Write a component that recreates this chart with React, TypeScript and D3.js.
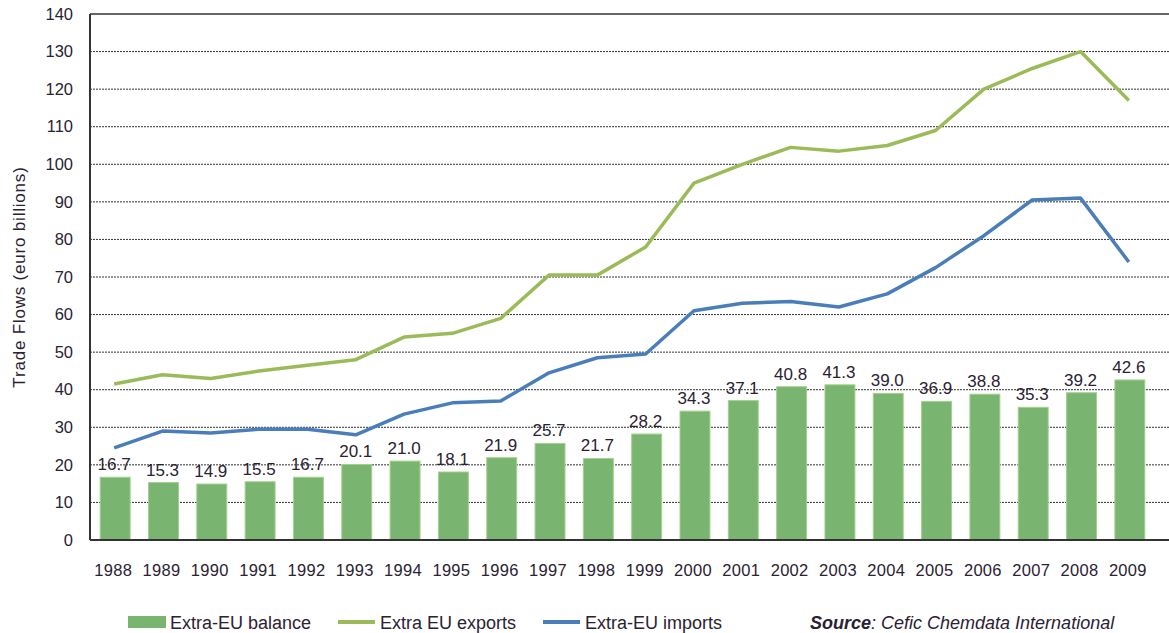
import * as d3 from "d3";
import React from "react";

const width = 1169;
const height = 633;
const margin = { top: 14, left: 90, bottom: 93 };
const plotRight = 1153;

const years = [
  "1988", "1989", "1990", "1991", "1992", "1993", "1994", "1995", "1996", "1997", "1998",
  "1999", "2000", "2001", "2002", "2003", "2004", "2005", "2006", "2007", "2008", "2009",
];
const balance = [
  16.7, 15.3, 14.9, 15.5, 16.7, 20.1, 21.0, 18.1, 21.9, 25.7, 21.7,
  28.2, 34.3, 37.1, 40.8, 41.3, 39.0, 36.9, 38.8, 35.3, 39.2, 42.6,
];
const exportsEU = [
  41.5, 44, 43, 45, 46.5, 48, 54, 55, 59, 70.5, 70.5,
  78, 95, 100, 104.5, 103.5, 105, 109, 120, 125.5, 130, 117,
];
const importsEU = [
  24.5, 29, 28.5, 29.5, 29.5, 28, 33.5, 36.5, 37, 44.5, 48.5,
  49.5, 61, 63, 63.5, 62, 65.5, 72.5, 81, 90.5, 91, 74,
];
const yTicks = [0, 10, 20, 30, 40, 50, 60, 70, 80, 90, 100, 110, 120, 130, 140];

const font = "'Liberation Sans', Arial, sans-serif";
const textColor = "#2a2233";

const App = () => {
  const x = d3
    .scaleBand()
    .domain(years)
    .range([margin.left, plotRight])
    .paddingInner(0.38)
    .paddingOuter(0.19);
  const y = d3
    .scaleLinear()
    .domain([0, 140])
    .range([height - margin.bottom, margin.top]);

  const cx = (yr) => x(yr) + x.bandwidth() / 2;
  const line = d3
    .line()
    .x((d) => cx(d[0]))
    .y((d) => y(d[1]));

  const y0 = y(0);

  return (
    <svg width={width} height={height} style={{ position: "absolute", left: 0, top: 0 }}>
      <rect width={width} height={height} fill="#fff" />
      {/* grid */}
      {yTicks.slice(1, -1).map((t) => (
        <line
          key={t}
          x1={margin.left}
          x2={width}
          y1={y(t)}
          y2={y(t)}
          stroke="#333"
          strokeWidth={1}
          strokeDasharray="2,1"
        />
      ))}
      <line x1={margin.left} x2={width} y1={y(140)} y2={y(140)} stroke="#333" strokeWidth={1.5} />
      {/* bars */}
      {balance.map((v, i) => (
        <rect
          key={years[i]}
          x={x(years[i]) + 1}
          y={y(v)}
          width={x.bandwidth()}
          height={y0 - y(v)}
          fill="#79b571"
          stroke="#a3d28a"
          strokeWidth={1}
        />
      ))}
      {balance.map((v, i) => (
        <text
          key={"l" + years[i]}
          x={cx(years[i])}
          y={y(v) - 7}
          textAnchor="middle"
          fontFamily={font}
          fontSize={17}
          fill={textColor}
        >
          {v.toFixed(1)}
        </text>
      ))}
      {/* lines */}
      <path
        d={line(years.map((yr, i) => [yr, exportsEU[i]]))}
        fill="none"
        stroke="#9bbb59"
        strokeWidth={3.5}
        strokeLinejoin="round"
      />
      <path
        d={line(years.map((yr, i) => [yr, importsEU[i]]))}
        fill="none"
        stroke="#4a7ebb"
        strokeWidth={3.5}
        strokeLinejoin="round"
      />
      {/* axes */}
      <line x1={margin.left} x2={margin.left} y1={y(140)} y2={y0} stroke="#333" strokeWidth={2} />
      <line x1={margin.left} x2={width} y1={y0} y2={y0} stroke="#333" strokeWidth={2} />
      {yTicks.map((t) => (
        <text
          key={"y" + t}
          x={73}
          y={y(t)}
          dy="0.35em"
          textAnchor="end"
          fontFamily={font}
          fontSize={16.5}
          fill={textColor}
        >
          {t}
        </text>
      ))}
      {years.map((yr) => (
        <text
          key={"x" + yr}
          x={cx(yr) - 1}
          y={576}
          textAnchor="middle"
          fontFamily={font}
          fontSize={16.5}
          letterSpacing={0.3}
          fill={textColor}
        >
          {yr}
        </text>
      ))}
      <text
        transform="translate(25, 277) rotate(-90)"
        textAnchor="middle"
        fontFamily={font}
        fontSize={17}
        letterSpacing={0.8}
        fill={textColor}
      >
        Trade Flows (euro billions)
      </text>
      {/* legend */}
      <rect x={128} y={616} width={38} height={12} fill="#79b571" />
      <text x={170} y={629} fontFamily={font} fontSize={18} fill={textColor}>
        Extra-EU balance
      </text>
      <line x1={338} x2={375} y1={622} y2={622} stroke="#9bbb59" strokeWidth={4} />
      <text x={380} y={629} fontFamily={font} fontSize={18} fill={textColor}>
        Extra EU exports
      </text>
      <line x1={543} x2={580} y1={622} y2={622} stroke="#4a7ebb" strokeWidth={4} />
      <text x={585} y={629} fontFamily={font} fontSize={18} fill={textColor}>
        Extra-EU imports
      </text>
      <text x={810} y={629} fontFamily={font} fontSize={18} fill={textColor} fontStyle="italic">
        <tspan fontWeight="bold">Source</tspan>: Cefic Chemdata  International
      </text>
    </svg>
  );
};

export default App;
